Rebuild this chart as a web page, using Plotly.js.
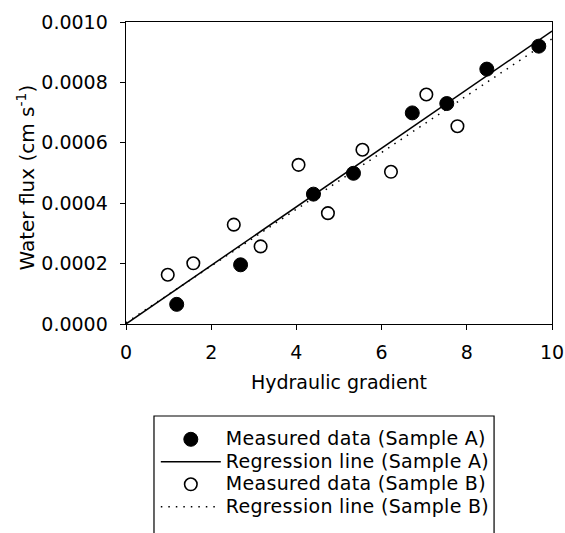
<!DOCTYPE html>
<html><head><meta charset="utf-8">
<script src="https://cdn.plot.ly/plotly-3.0.1.min.js"></script>
<style>
html,body{margin:0;padding:0;background:#fff;overflow:hidden;}
#chart{width:565px;height:550px;}
.legendtext{font-size:19px !important;letter-spacing:0.3px;}
</style>
</head><body><div id="chart"></div>
<script>
// Sample A measured data
const xA = [1.19, 2.69, 4.40, 5.34, 6.72, 7.53, 8.47, 9.69];
const yA = [0.000065, 0.000196, 0.000430, 0.000499, 0.000699, 0.000730, 0.000844, 0.000920];
// Sample B measured data
const xB = [0.98, 1.58, 2.53, 3.16, 4.05, 4.74, 5.55, 6.22, 7.05, 7.78];
const yB = [0.000163, 0.000201, 0.000329, 0.000257, 0.000527, 0.000367, 0.000577, 0.000504, 0.000760, 0.000655];
// Regression lines (end points)
const regAx = [0, 10];
const regAy = [0, 0.00097];
const regBx = [0, 10];
const regBy = [0.000004, 0.000944];
const xTicks = [0, 2, 4, 6, 8, 10];
const yTicks = [0, 0.0002, 0.0004, 0.0006, 0.0008, 0.0010];
const yTitle = 'Water flux (cm s<sup>-1</sup>)';

const wide = "DejaVu Sans, sans-serif";
const traces = [
  {x: xA, y: yA, mode: 'markers', name: 'Measured data (Sample A)',
   marker: {color: '#000', size: 14, line: {color: '#000', width: 1}}},
  {x: regAx, y: regAy, mode: 'lines', name: 'Regression line (Sample A)',
   line: {color: '#000', width: 1.5}},
  {x: xB, y: yB, mode: 'markers', name: 'Measured data (Sample B)',
   marker: {color: '#fff', size: 12.5, line: {color: '#000', width: 1.6}}},
  {x: regBx, y: regBy, mode: 'lines', name: 'Regression line (Sample B)',
   line: {color: '#000', width: 1.5, dash: '1.5px,6px'}}
];
const axisCommon = {
  showgrid: false, zeroline: false, showline: true, linecolor: '#000', linewidth: 1.4,
  mirror: true, ticks: 'outside', ticklen: 5, tickcolor: '#000', tickwidth: 1,
  tickfont: {family: wide, size: 19, color: '#000'}
};
const layout = {
  width: 565, height: 550,
  margin: {l: 126, r: 13, t: 22, b: 226},
  paper_bgcolor: '#fff', plot_bgcolor: '#fff',
  font: {family: wide, color: '#000'},
  xaxis: Object.assign({}, axisCommon, {
    range: [0, 10], tickvals: xTicks, ticktext: xTicks.map(String),
    ticklabelstandoff: 6,
    title: {text: 'Hydraulic gradient', font: {family: wide, size: 19, color: '#000'}, standoff: 13}
  }),
  yaxis: Object.assign({}, axisCommon, {
    range: [0, 0.0010], tickvals: yTicks, ticktext: yTicks.map(v => v.toFixed(4)),
    ticklabelstandoff: 8
  }),
  annotations: [{
    text: yTitle, textangle: -90, showarrow: false,
    xref: 'paper', yref: 'paper', x: -0.237, y: 0.485, xanchor: 'center', yanchor: 'middle',
    font: {family: wide, size: 20, color: '#000'}
  }],
  shapes: [{
    type: 'rect', xref: 'paper', yref: 'paper',
    x0: 0.0657, x1: 0.864, y0: -0.3046, y1: -0.8,
    line: {color: '#000', width: 1.2}, fillcolor: 'rgba(0,0,0,0)', layer: 'above'
  }],
  showlegend: true,
  legend: {
    x: 0.07, y: -0.328, xanchor: 'left', yanchor: 'top',
    borderwidth: 0, bgcolor: 'rgba(0,0,0,0)',
    font: {family: wide, size: 15, color: '#000'},
    itemwidth: 60, tracegroupgap: 0
  }
};
Plotly.newPlot('chart', traces, layout, {displayModeBar: false, staticPlot: true});
</script></body></html>
